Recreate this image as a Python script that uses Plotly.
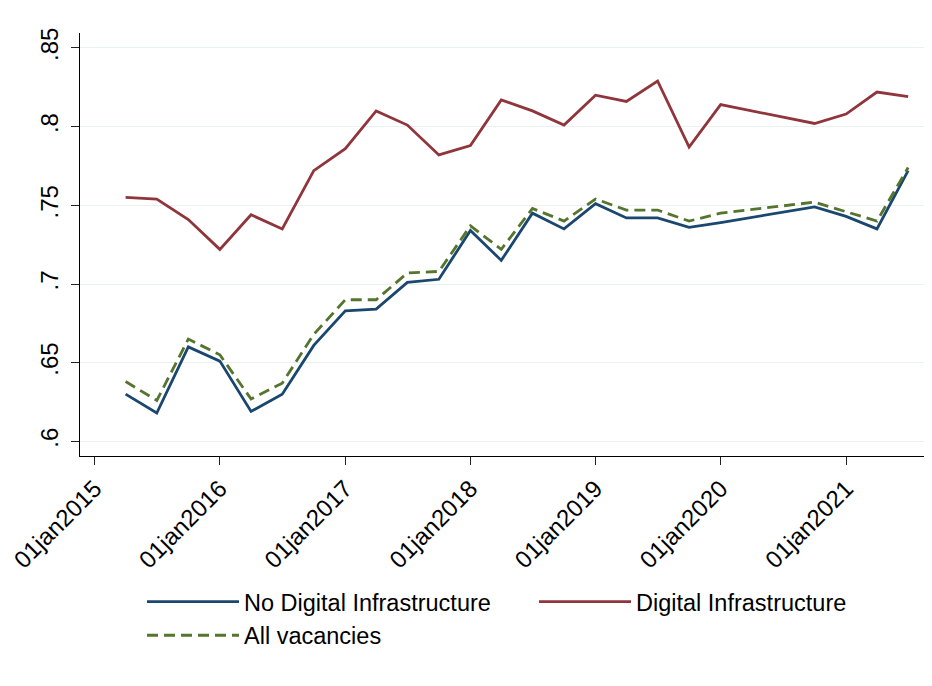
import pandas as pd
import plotly.graph_objects as go

# quarterly observations (2020Q2 and 2020Q3 are missing in the source)
dates = ["2015-04-01", "2015-07-01", "2015-10-01",
         "2016-01-01", "2016-04-01", "2016-07-01", "2016-10-01",
         "2017-01-01", "2017-04-01", "2017-07-01", "2017-10-01",
         "2018-01-01", "2018-04-01", "2018-07-01", "2018-10-01",
         "2019-01-01", "2019-04-01", "2019-07-01", "2019-10-01",
         "2020-01-01", "2020-10-01",
         "2021-01-01", "2021-04-01", "2021-07-01"]

no_digital = [0.630, 0.618, 0.660, 0.651, 0.619, 0.630, 0.661,
              0.683, 0.684, 0.701, 0.703, 0.734, 0.715, 0.745, 0.735,
              0.751, 0.742, 0.742, 0.736, 0.739, 0.749,
              0.743, 0.735, 0.772]

digital = [0.755, 0.754, 0.741, 0.722, 0.744, 0.735, 0.772,
           0.786, 0.810, 0.801, 0.782, 0.788, 0.817, 0.810, 0.801,
           0.820, 0.816, 0.829, 0.787, 0.814, 0.802,
           0.808, 0.822, 0.819]

all_vac = [0.638, 0.626, 0.665, 0.655, 0.627, 0.637, 0.668,
           0.690, 0.690, 0.707, 0.708, 0.737, 0.722, 0.748, 0.740,
           0.754, 0.747, 0.747, 0.740, 0.745, 0.752,
           0.746, 0.740, 0.774]

tick_dates = pd.to_datetime(["2015-01-01", "2016-01-01", "2017-01-01", "2018-01-01",
                             "2019-01-01", "2020-01-01", "2021-01-01"])
tick_text = [d.strftime("%d%b%Y").lower() for d in tick_dates]
y_ticks = [0.6, 0.65, 0.7, 0.75, 0.8, 0.85]
y_text = [".6", ".65", ".7", ".75", ".8", ".85"]

x = pd.to_datetime(dates)
FONT = "Liberation Sans, Arial, sans-serif"

fig = go.Figure()
fig.add_trace(go.Scatter(x=x, y=no_digital, mode="lines", name="No Digital Infrastructure",
                         line=dict(color="#1a476f", width=2.8)))
fig.add_trace(go.Scatter(x=x, y=digital, mode="lines", name="Digital Infrastructure",
                         line=dict(color="#90353b", width=2.8)))
fig.add_trace(go.Scatter(x=x, y=all_vac, mode="lines", name="All vacancies",
                         line=dict(color="#55752f", width=2.8, dash="11px,6px")))

# page body adds an 8px offset, so the figure is sized to the remaining viewport
fig.update_layout(
    width=924, height=678,
    margin=dict(l=72, r=5, t=25, b=230),
    paper_bgcolor="white", plot_bgcolor="white",
    font=dict(family=FONT, size=20, color="black"),
    showlegend=True,
    legend=dict(orientation="h", x=0.0732, xanchor="left", y=-0.293, yanchor="top",
                entrywidth=285, entrywidthmode="pixels", itemwidth=92,
                font=dict(size=23.5, color="black"), bgcolor="rgba(0,0,0,0)"),
    xaxis=dict(range=["2014-11-19", "2021-08-25"], tickvals=tick_dates, ticktext=tick_text,
               tickangle=-45, ticks="outside", ticklen=8, tickwidth=1.3, tickcolor="#222",
               showline=True, linecolor="black", linewidth=1.3, showgrid=False, zeroline=False,
               tickfont=dict(size=24), automargin=False),
    yaxis=dict(range=[0.5907, 0.8595], tickvals=y_ticks, ticktext=y_text, tickangle=-90,
               ticks="outside", ticklen=8, tickwidth=1.3, tickcolor="#222",
               showline=True, linecolor="black", linewidth=1.3,
               showgrid=True, gridcolor="#eaf1f3", gridwidth=1.3, zeroline=False,
               tickfont=dict(size=24), ticklabelstandoff=3, automargin=False),
)

fig.write_html("out.html")
